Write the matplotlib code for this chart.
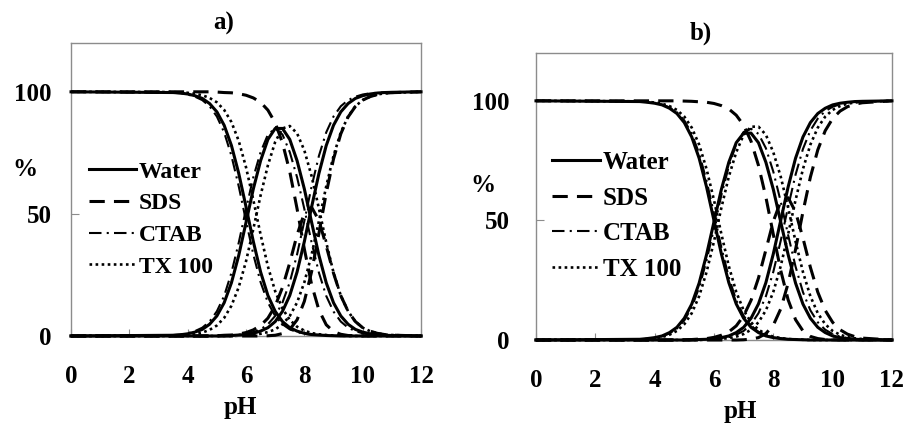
import matplotlib.pyplot as plt

plt.rcParams["font.family"] = ["Liberation Serif", "DejaVu Serif"]
plt.rcParams["font.weight"] = "bold"

# pH grid shared by every curve
PH = [0, 3.5, 3.75, 4, 4.25, 4.5, 4.75, 5, 5.25, 5.5, 5.75, 6, 6.25, 6.5, 6.75,
      7, 7.25, 7.5, 7.75, 8, 8.25, 8.5, 8.75, 9, 9.25, 9.5, 9.75, 10, 10.25,
      10.5, 10.75, 11, 12]

# ---- panel a) : % of H2A, HA-, A2-
WATER_A_H2A = [100, 99.7, 99.5, 99.1, 98.4, 97.3, 95.2, 91.8, 86.3, 78.0, 66.6, 52.9, 38.7, 26.2, 16.6,
               10.1, 5.9, 3.4, 2.0, 1.1, 0.6, 0.4, 0.2, 0.1, 0, 0, 0, 0, 0, 0, 0, 0, 0]
WATER_A_HA = [0, 0.3, 0.5, 0.9, 1.6, 2.7, 4.8, 8.2, 13.6, 21.8, 33.0, 46.5, 60.2, 71.8, 80.5,
              85.0, 85.0, 80.5, 71.8, 60.2, 46.5, 33.0, 21.8, 13.6, 8.2, 4.8, 2.7, 1.6, 0.9, 0.5, 0.3, 0.2, 0]
WATER_A_A2 = [0, 0, 0, 0, 0, 0, 0, 0, 0.1, 0.2, 0.4, 0.6, 1.1, 2.0, 3.4,
              5.9, 10.1, 16.6, 26.2, 38.7, 52.9, 66.6, 78.0, 86.3, 91.8, 95.2, 97.3, 98.4, 99.1, 99.5, 99.7, 99.8, 100]

SDS_A_H2A = [100, 100, 100, 100, 100, 100, 100, 99.9, 99.7, 99.6, 99.2, 98.6, 97.5, 95.7, 92.5,
             87.3, 79.1, 67.3, 52.1, 35.6, 21.0, 10.6, 4.6, 1.8, 0.7, 0.2, 0.1, 0, 0, 0, 0, 0, 0]
SDS_A_HA = [0, 0, 0, 0, 0, 0, 0, 0.1, 0.3, 0.4, 0.8, 1.4, 2.5, 4.3, 7.3,
            12.3, 19.9, 30.0, 41.4, 50.3, 52.7, 47.3, 36.9, 25.7, 16.5, 10.1, 5.9, 3.4, 2.0, 1.1, 0.6, 0.35, 0]
SDS_A_A2 = [0, 0, 0, 0, 0, 0, 0, 0, 0, 0, 0, 0, 0, 0, 0.1,
            0.3, 1.0, 2.7, 6.6, 14.2, 26.4, 42.1, 58.5, 72.5, 82.8, 89.7, 94.0, 96.6, 98.0, 98.9, 99.4, 99.65, 100]

CTAB_A_H2A = [100, 99.6, 99.4, 98.9, 98.0, 96.6, 94.1, 89.9, 83.4, 73.8, 61.3, 47.1, 33.4, 22.0, 13.7,
              8.2, 4.8, 2.7, 1.6, 0.9, 0.5, 0.3, 0.2, 0.1, 0, 0, 0, 0, 0, 0, 0, 0, 0]
CTAB_A_HA = [0, 0.4, 0.6, 1.1, 2.0, 3.4, 5.9, 10.1, 16.4, 25.9, 38.2, 52.0, 65.0, 75.3, 82.5,
             85.0, 82.5, 75.3, 65.0, 52.0, 38.2, 25.9, 16.4, 10.0, 5.9, 3.4, 2.0, 1.1, 0.6, 0.4, 0.2, 0.1, 0]
CTAB_A_A2 = [0, 0, 0, 0, 0, 0, 0, 0, 0.2, 0.3, 0.5, 0.9, 1.6, 2.7, 4.8,
             8.2, 13.7, 22.0, 33.4, 47.1, 61.3, 73.8, 83.4, 89.9, 94.1, 96.6, 98.0, 98.9, 99.4, 99.6, 99.8, 99.9, 100]

TX_A_H2A = [100, 99.9, 99.7, 99.6, 99.2, 98.6, 97.5, 95.7, 92.6, 87.6, 79.9, 69.1, 55.7, 41.5, 28.5,
            18.3, 11.2, 6.6, 3.8, 2.2, 1.2, 0.7, 0.4, 0.2, 0.1, 0, 0, 0, 0, 0, 0, 0, 0]
TX_A_HA = [0, 0.1, 0.3, 0.4, 0.8, 1.4, 2.5, 4.3, 7.4, 12.4, 20.0, 30.6, 43.8, 57.6, 69.9,
           79.5, 85.0, 86.0, 83.0, 76.0, 65.4, 52.2, 38.3, 26.0, 16.5, 10.1, 5.9, 3.4, 2.0, 1.1, 0.6, 0.4, 0]
TX_A_A2 = [0, 0, 0, 0, 0, 0, 0, 0, 0, 0, 0.1, 0.3, 0.5, 0.9, 1.6,
           2.7, 4.8, 8.2, 13.7, 22.0, 33.4, 47.1, 61.3, 73.8, 83.4, 89.9, 94.1, 96.6, 98.0, 98.9, 99.4, 99.6, 100]

# ---- panel b)
WATER_B_H2A = [100, 99.7, 99.4, 99.0, 98.3, 96.9, 94.7, 90.9, 84.9, 76.0, 64.0, 50.0, 36.0, 24.0, 15.1,
               9.1, 5.3, 3.1, 1.7, 1.0, 0.6, 0.3, 0.2, 0.1, 0, 0, 0, 0, 0, 0, 0, 0, 0]
WATER_B_HA = [0, 0.3, 0.6, 1.0, 1.7, 3.1, 5.3, 9.1, 15.0, 23.8, 35.7, 49.4, 63.0, 74.3, 82.5,
              86.5, 86.5, 82.5, 74.3, 63.0, 49.4, 35.7, 23.8, 15.0, 9.1, 5.3, 3.1, 1.7, 1.0, 0.6, 0.3, 0.2, 0]
WATER_B_A2 = [0, 0, 0, 0, 0, 0, 0, 0, 0.1, 0.2, 0.3, 0.6, 1.0, 1.7, 3.1,
              5.3, 9.1, 15.1, 24.0, 36.0, 50.0, 64.0, 76.0, 84.9, 90.9, 94.7, 96.9, 98.3, 99.0, 99.4, 99.7, 99.8, 100]

SDS_B_H2A = [100, 100, 100, 100, 100, 100, 100, 99.9, 99.8, 99.6, 99.4, 98.9, 98.0, 96.6, 94.0,
             89.8, 83.1, 73.0, 59.7, 44.2, 29.1, 16.8, 8.5, 3.8, 1.5, 0.6, 0.2, 0.1, 0, 0, 0, 0, 0]
SDS_B_HA = [0, 0, 0, 0, 0, 0, 0, 0.1, 0.2, 0.4, 0.6, 1.1, 2.0, 3.4, 5.9,
            10.1, 16.6, 25.9, 37.7, 49.6, 58.0, 59.5, 53.6, 42.6, 30.4, 20.0, 12.4, 7.4, 4.3, 2.45, 1.4, 0.8, 0]
SDS_B_A2 = [0, 0, 0, 0, 0, 0, 0, 0, 0, 0, 0, 0, 0, 0, 0,
            0.1, 0.4, 1.0, 2.7, 6.2, 13.0, 23.7, 37.9, 53.6, 68.1, 79.5, 87.5, 92.6, 95.7, 97.55, 98.6, 99.2, 100]

CTAB_B_H2A = [100, 99.7, 99.5, 99.1, 98.4, 97.3, 95.2, 91.8, 86.3, 78.0, 66.6, 52.9, 38.7, 26.2, 16.6,
              10.1, 5.9, 3.4, 2.0, 1.1, 0.6, 0.4, 0.2, 0.1, 0, 0, 0, 0, 0, 0, 0, 0, 0]
CTAB_B_HA = [0, 0.3, 0.5, 0.9, 1.6, 2.7, 4.8, 8.2, 13.7, 21.9, 33.2, 46.7, 60.6, 72.6, 82.0,
             87.0, 88.3, 86.2, 80.2, 70.4, 57.9, 43.9, 30.7, 20.0, 12.4, 7.4, 4.3, 2.5, 1.4, 0.8, 0.4, 0.3, 0]
CTAB_B_A2 = [0, 0, 0, 0, 0, 0, 0, 0, 0, 0.1, 0.2, 0.4, 0.7, 1.2, 2.2,
             3.8, 6.6, 11.2, 18.3, 28.5, 41.5, 55.7, 69.1, 79.9, 87.6, 92.6, 95.7, 97.5, 98.6, 99.2, 99.6, 99.7, 100]

TX_B_H2A = [100, 99.8, 99.6, 99.3, 98.8, 97.8, 96.2, 93.4, 88.8, 81.7, 71.5, 58.5, 44.3, 30.9, 20.1,
            12.4, 7.4, 4.3, 2.5, 1.4, 0.8, 0.4, 0.3, 0.1, 0, 0, 0, 0, 0, 0, 0, 0, 0]
TX_B_HA = [0, 0.2, 0.4, 0.7, 1.2, 2.2, 3.8, 6.6, 11.2, 18.3, 28.4, 41.2, 55.3, 68.3, 78.5,
           85.8, 89.2, 89.2, 85.8, 78.5, 68.3, 55.3, 41.2, 28.4, 18.3, 11.2, 6.6, 3.8, 2.2, 1.2, 0.7, 0.4, 0]
TX_B_A2 = [0, 0, 0, 0, 0, 0, 0, 0, 0, 0, 0.1, 0.3, 0.4, 0.8, 1.4,
           2.5, 4.3, 7.4, 12.4, 20.1, 30.9, 44.3, 58.5, 71.5, 81.7, 88.8, 93.4, 96.2, 97.8, 98.8, 99.3, 99.6, 100]

LABELS = ["Water", "SDS", "CTAB", "TX 100"]
X_TICKS = [0, 2, 4, 6, 8, 10, 12]
Y_TICKS = [0, 50, 100]

STYLES = {
    "Water": dict(linestyle="-", linewidth=2.2, zorder=4),
    "SDS": dict(linestyle=(0, (5, 3)), linewidth=2.2, zorder=3),
    "CTAB": dict(linestyle=(0, (6, 2.5, 1, 2.5)), linewidth=1.5, zorder=2),
    "TX 100": dict(linestyle=(0, (1, 1.3)), linewidth=1.9, zorder=2),
}
GRAY = "#8c8c8c"


def draw_panel(ax, curves, ypad, legend_size, legend_anchor, handlelen, spacing):
    for label, species in zip(LABELS, curves):
        for i, ys in enumerate(species):
            ax.plot(PH, ys, color="black", clip_on=False,
                    label=label if i == 0 else None, **STYLES[label])
    ax.set_xlim(0, 12)
    ax.set_ylim(0, 120)
    ax.set_xticks(X_TICKS)
    ax.set_yticks(Y_TICKS)
    ax.tick_params(axis="x", direction="in", length=5, color=GRAY, pad=21, labelsize=18)
    ax.tick_params(axis="y", direction="in", length=6, color=GRAY, pad=ypad, labelsize=18)
    for s in ax.spines.values():
        s.set_color(GRAY)
        s.set_linewidth(1.0)
    ax.legend(loc="upper left", bbox_to_anchor=legend_anchor, frameon=False,
              fontsize=legend_size, handlelength=handlelen, handletextpad=0.1,
              labelspacing=spacing, borderpad=0, borderaxespad=0)


fig = plt.figure(figsize=(9.06, 4.23), dpi=100)
ax_a = fig.add_axes([0.0784, 0.2057, 0.3863, 0.6927])
ax_b = fig.add_axes([0.5916, 0.1962, 0.3929, 0.6785])

draw_panel(ax_a,
           [(WATER_A_H2A, WATER_A_HA, WATER_A_A2), (SDS_A_H2A, SDS_A_HA, SDS_A_A2),
            (CTAB_A_H2A, CTAB_A_HA, CTAB_A_A2), (TX_A_H2A, TX_A_HA, TX_A_A2)],
           ypad=14, legend_size=17, legend_anchor=(0.05, 0.597), handlelen=2.03, spacing=0.43)
draw_panel(ax_b,
           [(WATER_B_H2A, WATER_B_HA, WATER_B_A2), (SDS_B_H2A, SDS_B_HA, SDS_B_A2),
            (CTAB_B_H2A, CTAB_B_HA, CTAB_B_A2), (TX_B_H2A, TX_B_HA, TX_B_A2)],
           ypad=19, legend_size=18, legend_anchor=(0.045, 0.658), handlelen=1.92, spacing=0.5)

# "%" labels, panel titles and pH labels
ax_a.text(-0.131, 0.567, "%", transform=ax_a.transAxes, ha="center", va="center", fontsize=18)
ax_b.text(-0.149, 0.54, "%", transform=ax_b.transAxes, ha="center", va="center", fontsize=18)
fig.text(0.247, 0.944, "a)", ha="center", va="center", fontsize=18)
fig.text(0.773, 0.922, "b)", ha="center", va="center", fontsize=18)
fig.text(0.265, 0.036, "pH", ha="center", va="center", fontsize=18)
fig.text(0.817, 0.028, "pH", ha="center", va="center", fontsize=18)

fig.savefig("out.png", dpi=100)
